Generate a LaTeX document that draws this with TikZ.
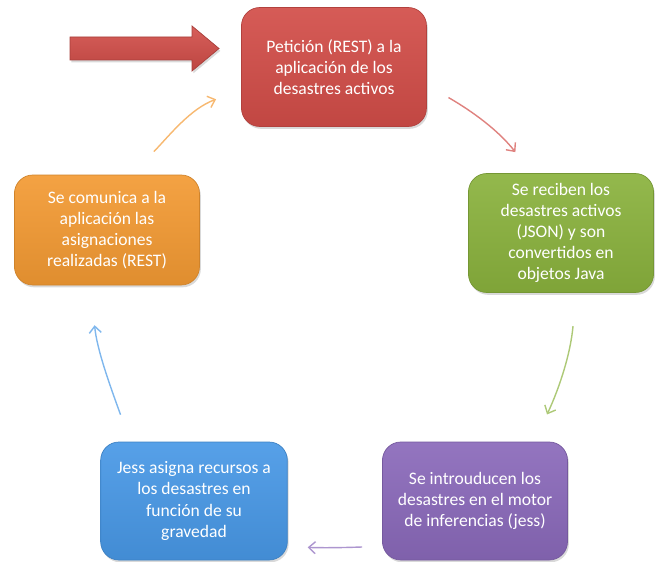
\documentclass[tikz,border=0pt]{standalone}
\usepackage{fontspec}
\setmainfont{Carlito}
\usetikzlibrary{arrows.meta,shadows}

\definecolor{rojo}{HTML}{D24D48}
\definecolor{naranja}{HTML}{F39A33}
\definecolor{verde}{HTML}{8AB23D}
\definecolor{azul}{HTML}{4898E6}
\definecolor{morado}{HTML}{8A69BA}

\begin{document}
\begin{tikzpicture}[
	paso/.style={rounded corners=0.55cm, minimum width=5.55cm, minimum height=3.57cm, align=center, text=white,
		font=\fontsize{15}{18}\selectfont, line width=0.6pt, draw=#1!85!black,
		top color=#1!92!white, bottom color=#1!92!black,
		drop shadow={opacity=0.3, shadow xshift=0.04cm, shadow yshift=-0.07cm}},
	flecha/.style={line width=1.2pt, draw=#1!70!white, -{Straight Barb[length=2mm, width=3.6mm]}}
]
	\useasboundingbox (0, 0) rectangle (19.8, -16.86);
	
	% Flecha de entrada
	\path[top color=rojo!90!white, bottom color=rojo!90!black, draw=rojo!80!black, line width=0.6pt,
		drop shadow={opacity=0.3, shadow xshift=0.04cm, shadow yshift=-0.07cm}]
		(2.1, -1.11) -- (5.76, -1.11) -- (5.76, -0.78) -- (6.57, -1.455) -- (5.76, -2.13) -- (5.76, -1.8) -- (2.1, -1.8) -- cycle;
	
	% Pasos del ciclo
	\node[paso=rojo] (peticion) at (10.02, -2.01) {Petición (REST) a la\\aplicación de los\\desastres activos};
	\node[paso=verde] (recepcion) at (16.83, -6.99) {Se reciben los\\desastres activos\\(JSON) y son\\convertidos en\\objetos Java};
	\node[paso=morado, minimum height=3.54cm] (inferencia) at (14.25, -15.03) {Se introuducen los\\desastres en el motor\\de inferencias (jess)};
	\node[paso=azul, minimum width=5.6cm, minimum height=3.54cm] (asignacion) at (5.82, -15.03) {Jess asigna recursos a\\los desastres en\\función de su\\gravedad};
	\node[paso=naranja, minimum height=3.3cm] (comunicacion) at (3.21, -6.9) {Se comunica a la\\aplicación las\\asignaciones\\realizadas (REST)};
	
	% Conexiones
	\draw[flecha=rojo, shorten <=0.75cm, shorten >=0.8cm] (peticion.-11) to[out=-30, in=128] (recepcion.116);
	\draw[flecha=verde, shorten <=1cm, shorten >=0.9cm] (recepcion.-76) to[out=-95, in=65] (inferencia.45);
	\draw[flecha=morado, shorten <=0.6cm, shorten >=0.6cm] (inferencia.-154) to[out=182, in=-2] (asignacion.-26);
	\draw[flecha=azul, shorten <=0.86cm, shorten >=1.2cm] (asignacion.137) to[out=110, in=-85] (comunicacion.-106);
	\draw[flecha=naranja, shorten <=0.96cm, shorten >=0.8cm] (comunicacion.66) to[out=46, in=200] (peticion.-166);
\end{tikzpicture}
\end{document}
